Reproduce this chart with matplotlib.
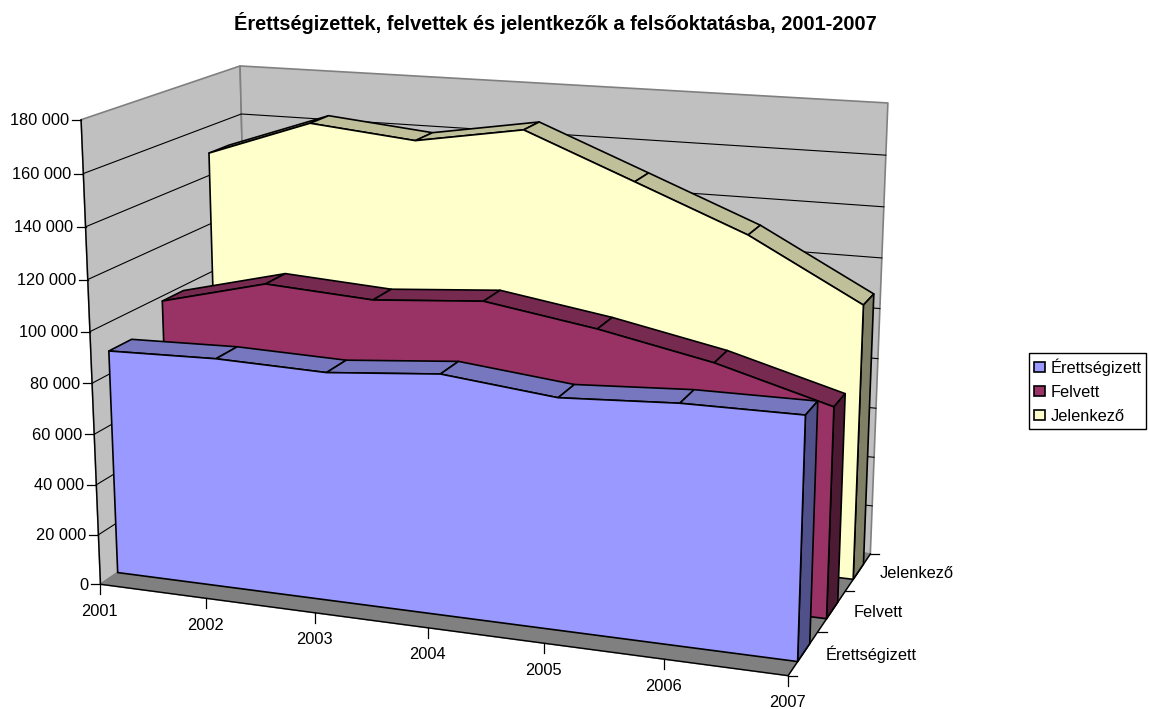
import numpy as np
import matplotlib
matplotlib.use("Agg")
import matplotlib.pyplot as plt
from matplotlib.patches import Polygon, Patch

plt.rcParams['font.family'] = ['Liberation Sans', 'DejaVu Sans']

years = ["2001", "2002", "2003", "2004", "2005", "2006", "2007"]
series_names = ["Érettségizett", "Felvett", "Jelenkező"]
erettsegizett = [89000, 90100, 89000, 92700, 88200, 90600, 90800]
felvett = [98000, 108600, 106000, 109300, 102500, 93700, 81400]
jelenkezo = [149100, 164000, 159800, 166800, 149500, 132100, 108700]
y_ticks = [0, 20000, 40000, 60000, 80000, 100000, 120000, 140000, 160000, 180000]
y_max = 180000

# camera calibration: (year index, value, depth) -> pixel
calib_3d = [(0, 0, 0), (6, 0, 0), (6, 0, 3), (0, y_max, 0), (0, y_max, 3), (6, y_max, 3),
            (6, 0, 1), (6, 0, 2), (1, 0, 0), (2, 0, 0), (0, 100000, 0)]
calib_px = [(100.7, 584.7), (788.3, 675.7), (870, 554), (81, 120), (240, 66), (888, 103),
            (817, 631.7), (846, 591), (206, 598), (315.7, 613), (90, 331)]

rows = []
for (x, v, d), (u, w) in zip(calib_3d, calib_px):
    X = [x, v / y_max, d, 1]
    rows.append(X + [0, 0, 0, 0] + [-u * c for c in X])
    rows.append([0, 0, 0, 0] + X + [-w * c for c in X])
cam = np.linalg.svd(np.array(rows))[2][-1].reshape(3, 4)


def proj(x, v, d):
    p = cam @ np.array([x, v / y_max, d, 1.0])
    return p[0] / p[2], p[1] / p[2]


fig = plt.figure(figsize=(11.49, 7.09), dpi=100)
ax = fig.add_axes([0, 0, 1, 1])
ax.set_xlim(0, 1149)
ax.set_ylim(709, 0)
ax.axis("off")

order = [1]  # painter's order, everything is stacked as it is drawn


def face(pts, color, edge="black", lw=1.2):
    order[0] += 1
    ax.add_patch(Polygon([proj(*p) for p in pts], closed=True, fc=color, ec=edge, lw=lw,
                         joinstyle="round", zorder=order[0]))


def line(pts, lw=0.8):
    order[0] += 1
    xs, ys = zip(*pts)
    ax.plot(xs, ys, color="black", lw=lw, zorder=order[0])


n = len(years) - 1
grey = "#808080"
face([(0, 0, 0), (0, y_max, 0), (0, y_max, 3), (0, 0, 3)], "#C0C0C0", grey)
face([(0, 0, 3), (0, y_max, 3), (n, y_max, 3), (n, 0, 3)], "#C0C0C0", grey)
for t in y_ticks[1:-1]:
    line([proj(0, t, 0), proj(0, t, 3), proj(n, t, 3)])
face([(0, 0, 0), (n, 0, 0), (n, 0, 3), (0, 0, 3)], grey, grey)
line([proj(0, 0, 0), proj(n, 0, 0), proj(n, 0, 3)], 1.0)
line([proj(0, 0, 0), proj(0, y_max, 0)], 1.0)

# ticks and labels
for t in y_ticks:
    u, w = proj(0, t, 0)
    line([(u - 9, w), (u, w)], 0.9)
    ax.text(u - 12, w + 1, f"{t:,}".replace(",", " "), ha="right", va="center", fontsize=11.8)
for i, yr in enumerate(years):
    u, w = proj(i, 0, 0)
    line([(u, w), (u, w + 10)], 0.9)
    ax.text(u - 1, w + 27, yr, ha="center", va="center", fontsize=11.8)
for d in range(4):
    u, w = proj(n, 0, d)
    line([(u, w), (u + 9, w)], 0.9)
for d, name in enumerate(series_names):
    u, w = proj(n, 0, d + 0.5)
    ax.text(u + 22, w + 1.5, name, ha="left", va="center", fontsize=11.8)

front_gap, back_gap = 0.31, 0.72
colors = [("#9999FF", "#7777BF", "#50508A"), ("#993366", "#772A50", "#4D1A33"), ("#FFFFCC", "#BFBF99", "#808066")]
all_vals = [erettsegizett, felvett, jelenkezo]
for s in [2, 1, 0]:
    vals = all_vals[s]
    zf, zb = s + front_gap, s + back_gap
    main, top, side = colors[s]
    for i in range(n):
        face([(i, vals[i], zf), (i, vals[i], zb), (i + 1, vals[i + 1], zb), (i + 1, vals[i + 1], zf)], top)
    face([(n, 0, zf), (n, vals[n], zf), (n, vals[n], zb), (n, 0, zb)], side)
    face([(0, 0, zf)] + [(i, vals[i], zf) for i in range(n + 1)] + [(n, 0, zf)], main)

ax.text(555, 23, "Érettségizettek, felvettek és jelentkezők a felsőoktatásba, 2001-2007",
        ha="center", va="center", fontsize=14.4, fontweight="bold")

fig.legend(handles=[Patch(fc=c[0], ec="black", lw=1.2, label=nm) for c, nm in zip(colors, series_names)],
           loc="center left", bbox_to_anchor=(1029 / 1149, 1 - 391 / 709), fontsize=11.8, fancybox=False,
           framealpha=1, edgecolor="black", borderpad=0.3, labelspacing=0.55, handlelength=0.65,
           handleheight=0.65, handletextpad=0.35, borderaxespad=0)

fig.savefig("out.png", dpi=100)
